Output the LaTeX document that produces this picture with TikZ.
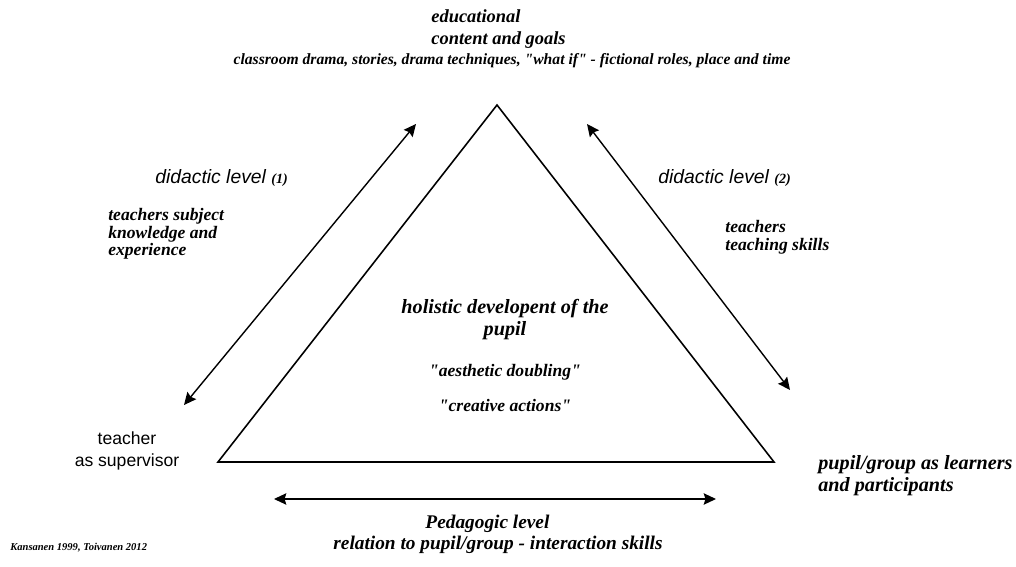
\documentclass[tikz,border=0pt]{standalone}
\usepackage{fontspec}
\setmainfont{Liberation Serif}
\setsansfont{Liberation Sans}
\usepackage{tikz}
\usetikzlibrary{arrows.meta, positioning}
\tikzstyle{note} = [font=\bfseries\itshape\fontsize{10}{10}\selectfont, align=left, inner sep=0pt]
\tikzstyle{heading} = [font=\bfseries\itshape\fontsize{11.5}{12.5}\selectfont, align=center, inner sep=0pt]
\tikzstyle{level} = [font=\sffamily\itshape\fontsize{11}{13}\selectfont, inner sep=0pt]
\tikzstyle{edge} = [line width=0.9pt, line join=miter]
\tikzstyle{biarrow} = [line width=0.8pt, {Stealth[length=7pt,width=6.5pt,inset=1pt]}-{Stealth[length=7pt,width=6.5pt,inset=1pt]}]

\begin{document}
\begin{tikzpicture}[x=0.02cm, y=-0.02cm]
    \useasboundingbox (0,0) rectangle (1016,567);

    % Triangle
    \coordinate (apex) at (497,105);
    \coordinate (corner1) at (218,462);
    \coordinate (corner2) at (774,462);
    \draw[edge] (apex) -- (corner1) -- (corner2) -- cycle;

    % Level arrows
    \coordinate (did1a) at (184,405);
    \coordinate (did1b) at (416,124);
    \coordinate (did2a) at (587,124);
    \coordinate (did2b) at (790,390);
    \coordinate (pedA) at (274,499);
    \coordinate (pedB) at (716,499);
    \draw[biarrow] (did1a) -- (did1b);
    \draw[biarrow] (did2a) -- (did2b);
    \draw[biarrow] (pedA) -- (pedB);

    % Content and goals
    \node[note, font=\bfseries\itshape\fontsize{10.5}{12.5}\selectfont, anchor=west] (content) at (431,29) {educational\\content and goals};
    \node[note, font=\bfseries\itshape\fontsize{8.9}{10}\selectfont] (contentsub) at (512,61) {classroom drama, stories, drama techniques, \textquotedbl what if\textquotedbl\ - fictional roles, place and time};

    % Didactic levels
    \node[level, anchor=west] (level1) at (155,178) {didactic level {\rmfamily\bfseries\fontsize{8}{8}\selectfont (1)}};
    \node[note, anchor=west] (subject) at (108,234) {teachers subject\\knowledge and\\experience};
    \node[level, anchor=west] (level2) at (658,178) {didactic level {\rmfamily\bfseries\fontsize{8}{8}\selectfont (2)}};
    \node[note, anchor=west] (skills) at (725,237) {teachers\\teaching skills};

    % Centre of the triangle
    \node[heading] (holistic) at (505,320) {holistic developent of the\\pupil};
    \node[note, align=center] (doubling) at (505,372) {\textquotedbl aesthetic doubling\textquotedbl};
    \node[note, align=center] (creative) at (505,405) {\textquotedbl creative actions\textquotedbl};

    % Corners
    \node[font=\sffamily\fontsize{10}{12.5}\selectfont, align=center, inner sep=0pt] (teacher) at (127,451) {teacher\\as supervisor};
    \node[heading, align=left, anchor=west] (pupil) at (818,476) {pupil/group as learners\\and participants};

    % Pedagogic level
    \node[heading, font=\bfseries\itshape\fontsize{11}{12}\selectfont] (pedagogic) at (498,534) {\hspace*{-12pt}Pedagogic level\\relation to pupil/group - interaction skills};

    \node[note, font=\bfseries\itshape\fontsize{6}{6}\selectfont, anchor=west] (source) at (10,548) {Kansanen 1999, Toivanen 2012};
\end{tikzpicture}
\end{document}
